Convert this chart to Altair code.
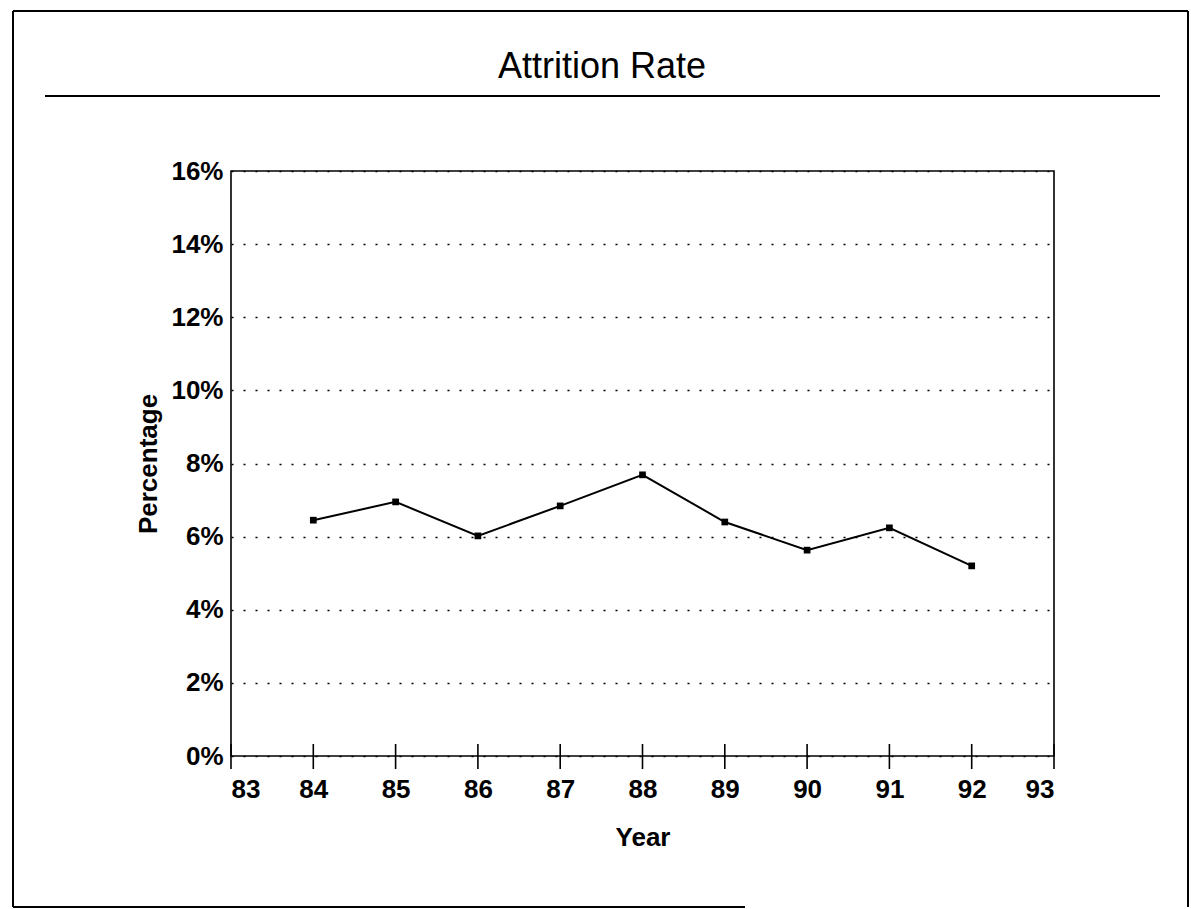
import altair as alt
import pandas as pd

# Attrition rate by fiscal year
years = [84, 85, 86, 87, 88, 89, 90, 91, 92]
attrition_pct = [6.45, 6.95, 6.02, 6.84, 7.69, 6.40, 5.63, 6.24, 5.20]

x_ticks = list(range(83, 94))
y_ticks = [0, 2, 4, 6, 8, 10, 12, 14, 16]
heading = "Attrition Rate"

PLOT_W, PLOT_H = 823, 585
LEFT, TOP = 231, 171
FONT = "Liberation Sans"

df = pd.DataFrame({"year": years, "rate": attrition_pct})
tick_df = pd.DataFrame({"year": x_ticks})

x_scale = alt.Scale(domain=[83, 93], nice=False, zero=False)
y_scale = alt.Scale(domain=[0, 16], nice=False)

x_axis = alt.Axis(
    values=x_ticks, format="d", title="Year", grid=False, ticks=False,
    domain=False, labelFont=FONT, labelFontSize=26, labelFontWeight="bold",
    labelColor="black", labelPadding=20, titleFont=FONT, titleFontSize=26,
    titleFontWeight="bold", titleColor="black", titlePadding=22,
)
y_axis = alt.Axis(
    values=y_ticks, labelExpr="datum.value + '%'", title="Percentage",
    ticks=False, domain=False, grid=True, gridColor="black", gridWidth=1.4,
    gridDash=[2, 10], labelFont=FONT, labelFontSize=26, labelFontWeight="bold",
    labelColor="black", labelPadding=8, titleFont=FONT, titleFontSize=26,
    titleFontWeight="bold", titleColor="black", titlePadding=9,
)

line = alt.Chart(df).mark_line(color="black", strokeWidth=2).encode(
    x=alt.X("year:Q", scale=x_scale, axis=x_axis),
    y=alt.Y("rate:Q", scale=y_scale, axis=y_axis),
)
points = alt.Chart(df).mark_point(
    shape="square", filled=True, color="black", size=45, opacity=1
).encode(x=alt.X("year:Q", scale=x_scale), y=alt.Y("rate:Q", scale=y_scale))

# tick marks that cross the baseline at each year
ticks = alt.Chart(tick_df).mark_rule(color="black", strokeWidth=1.6).encode(
    x=alt.X("year:Q", scale=x_scale),
    y=alt.value(PLOT_H - 12),
    y2=alt.value(PLOT_H + 13),
)

# page frame and the rule under the heading, in pixels from the plot origin
frame = pd.DataFrame({
    "x": [13, 13, 1188, 13, 45],
    "x2": [1188, 13, 1188, 745, 1160],
    "y": [11, 11, 11, 907, 96],
    "y2": [11, 907, 907, 907, 96],
})
frame["x"] -= LEFT
frame["x2"] -= LEFT
frame["y"] -= TOP
frame["y2"] -= TOP
decor = alt.Chart(frame).mark_rule(color="black", strokeWidth=2).encode(
    x=alt.X("x:Q", scale=None), x2="x2:Q",
    y=alt.Y("y:Q", scale=None), y2="y2:Q",
)

# page heading above the rule
title = alt.Chart(pd.DataFrame({"t": [heading]})).mark_text(
    font=FONT, fontSize=36, color="black", align="center", baseline="alphabetic"
).encode(text="t:N", x=alt.value(602 - LEFT), y=alt.value(78 - TOP))

chart = alt.layer(decor, title, line, points, ticks).properties(
    width=PLOT_W,
    height=PLOT_H,
    padding={"left": LEFT, "top": TOP, "right": 1191 - LEFT - PLOT_W,
             "bottom": 909 - TOP - PLOT_H},
    autosize=alt.AutoSizeParams(type="none"),
).configure(background="white").configure_view(stroke="black", strokeWidth=1.6)

chart.save("out.html", embed_options={"renderer": "svg", "actions": False})
